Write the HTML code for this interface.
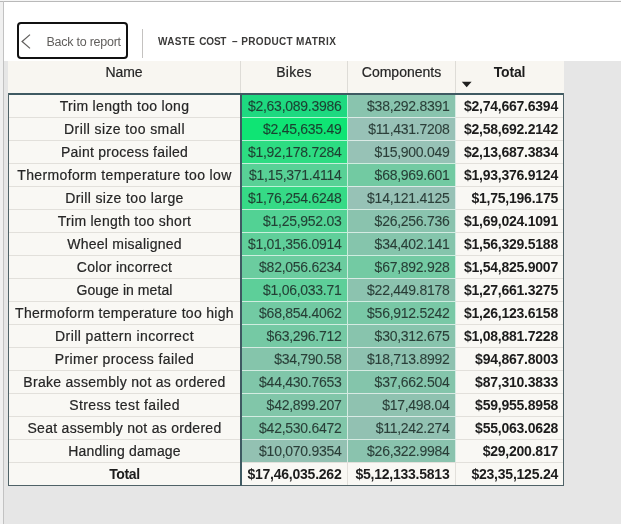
<!DOCTYPE html><html><head><meta charset="utf-8"><title>Waste cost</title><style>
html,body{margin:0;padding:0}
body{width:621px;height:524px;background:#fff;position:relative;overflow:hidden;font-family:"Liberation Sans",sans-serif;color:#262626}
.abs{position:absolute}
#lstrip{left:0;top:2px;width:3px;height:522px;background:#f0f0f0}
#lline{left:3px;top:1px;width:1px;height:523px;background:#c2c2c2}
#tline{left:0;top:1px;width:621px;height:1px;background:#b9b9b9}
#tstrip{left:0;top:0;width:621px;height:1px;background:#f6f6f6}
#gray{left:4px;top:61px;width:617px;height:463px;background:#e6e6e6}
#btn{left:17px;top:22px;width:107px;height:33px;border:2px solid #111;border-radius:4px;background:#fff}
#btn span{position:absolute;left:27.5px;top:10.5px;font-size:12.5px;line-height:15px;color:#605e5c;white-space:nowrap;letter-spacing:-0.25px}
#vsep{left:142px;top:29px;width:1px;height:29px;background:#c4c2c0}
#title{left:158px;top:35.5px;width:200px;height:12px;font-size:10px;line-height:12px;font-weight:bold;color:#3b3a39;white-space:nowrap}
#title span{position:absolute;top:0;transform-origin:0 0;display:block}
#hdr{left:8px;top:61px;width:556px;height:33px;background:#f8f6f1}
.hc{position:absolute;top:0;height:32px;text-align:center;font-size:14px;line-height:22px;white-space:nowrap;-webkit-text-stroke:0.2px #262626}
.hs{position:absolute;top:0;width:1px;height:32px;background:#dedcd7}
#body{left:8px;top:93px;width:556px;height:393px;background:#f9f8f4}
.bd{position:absolute;background:#3f5a62}
.row{position:absolute;left:0;width:556px;height:23px}
.c{position:absolute;top:0;height:23px;line-height:22px;font-size:14px;white-space:nowrap;box-sizing:border-box;border-top:1px solid transparent;-webkit-text-stroke:0.2px #262626}
.n{left:1px;width:231px;text-align:center;border-top-color:#e2e0db}
.b{-webkit-text-stroke:0.1px rgba(28,44,40,.85);color:rgba(28,44,40,.88);left:234px;width:106px;text-align:right;padding-right:5.5px;letter-spacing:-0.27px;border-top-color:rgba(255,255,255,.66);border-right:1px solid rgba(255,255,255,.66)}
.m{-webkit-text-stroke:0.1px rgba(28,44,40,.85);color:rgba(28,44,40,.88);left:340px;width:108px;text-align:right;padding-right:5.5px;letter-spacing:-0.27px;border-top-color:rgba(255,255,255,.66);border-right:1px solid rgba(255,255,255,.66)}
.t{left:448px;width:107px;text-align:right;padding-right:5px;letter-spacing:-0.23px;font-weight:bold;color:#1c1c1c;border-top-color:#e2e0db;-webkit-text-stroke:0}
.r0 .c{border-top-color:transparent}
.tot .c{-webkit-text-stroke:0;font-weight:bold;color:#1c1c1c;letter-spacing:-0.23px;border-top-color:#e2e0db;border-right-color:#e2e0db}
</style></head><body>
<div class="abs" id="tstrip"></div><div class="abs" id="tline"></div><div class="abs" id="lstrip"></div><div class="abs" id="lline"></div>
<div class="abs" id="gray"></div>
<div class="abs" id="btn"><svg class="abs" style="left:1px;top:9px" width="14" height="18" viewBox="0 0 14 18"><path d="M10 1.6 L2.1 8.5 L10 15.4" fill="none" stroke="#605e5c" stroke-width="1.25"/></svg><span>Back to report</span></div>
<div class="abs" id="vsep"></div>
<div class="abs" id="title"><span style="left:0.00px;letter-spacing:0.325px">WASTE</span> <span style="left:41.30px;letter-spacing:-0.200px">COST</span> <span style="left:73.90px;letter-spacing:0.000px">–</span> <span style="left:83.30px;letter-spacing:0.317px">PRODUCT</span> <span style="left:138.10px;letter-spacing:0.430px">MATRIX</span></div>
<div class="abs" id="hdr">
<div class="hc" style="left:0;width:232px;letter-spacing:-0.1px">Name</div>
<div class="hc" style="left:233px;width:106px;letter-spacing:0.3px">Bikes</div>
<div class="hc" style="left:340px;width:107px;letter-spacing:0px">Components</div>
<div class="hc" style="left:448px;width:107px;font-weight:bold;color:#1c1c1c;letter-spacing:-0.2px;-webkit-text-stroke:0">Total</div>
<div class="hs" style="left:232px"></div><div class="hs" style="left:339px"></div><div class="hs" style="left:447px"></div>
<svg class="abs" style="left:453px;top:20px" width="12" height="7" viewBox="0 0 12 7"><path d="M0.8 0.8 L10.6 0.8 L5.7 6.2 Z" fill="#1f1f1f"/></svg>
</div>
<div class="abs" id="body">
<div class="row r0" style="top:1px"><div class="c n" style="letter-spacing:0.324px">Trim length too long</div><div class="c b" style="background:#1ed980">$2,63,089.3986</div><div class="c m" style="background:#89c4ae">$38,292.8391</div><div class="c t">$2,74,667.6394</div></div>
<div class="row" style="top:24px"><div class="c n" style="letter-spacing:0.400px">Drill size too small</div><div class="c b" style="background:#0fe474">$2,45,635.49</div><div class="c m" style="background:#98c2b7">$11,431.7208</div><div class="c t">$2,58,692.2142</div></div>
<div class="row" style="top:47px"><div class="c n" style="letter-spacing:0.250px">Paint process failed</div><div class="c b" style="background:#2ddc82">$1,92,178.7284</div><div class="c m" style="background:#97c2b6">$15,900.049</div><div class="c t">$2,13,687.3834</div></div>
<div class="row" style="top:70px"><div class="c n" style="letter-spacing:0.350px">Thermoform temperature too low</div><div class="c b" style="background:#58d196">$1,15,371.4114</div><div class="c m" style="background:#72caa2">$68,969.601</div><div class="c t">$1,93,376.9124</div></div>
<div class="row" style="top:93px"><div class="c n" style="letter-spacing:0.362px">Drill size too large</div><div class="c b" style="background:#36da86">$1,76,254.6248</div><div class="c m" style="background:#97c2b6">$14,121.4125</div><div class="c t">$1,75,196.175</div></div>
<div class="row" style="top:116px"><div class="c n" style="letter-spacing:0.265px">Trim length too short</div><div class="c b" style="background:#52d294">$1,25,952.03</div><div class="c m" style="background:#8ac3ae">$26,256.736</div><div class="c t">$1,69,024.1091</div></div>
<div class="row" style="top:139px"><div class="c n" style="letter-spacing:0.256px">Wheel misaligned</div><div class="c b" style="background:#60cf9a">$1,01,356.0914</div><div class="c m" style="background:#85c5ac">$34,402.141</div><div class="c t">$1,56,329.5188</div></div>
<div class="row" style="top:162px"><div class="c n" style="letter-spacing:0.284px">Color incorrect</div><div class="c b" style="background:#6bcc9f">$82,056.6234</div><div class="c m" style="background:#73caa3">$67,892.928</div><div class="c t">$1,54,825.9007</div></div>
<div class="row" style="top:185px"><div class="c n" style="letter-spacing:0.068px">Gouge in metal</div><div class="c b" style="background:#5dcf99">$1,06,033.71</div><div class="c m" style="background:#8cc3af">$22,449.8178</div><div class="c t">$1,27,661.3275</div></div>
<div class="row" style="top:208px"><div class="c n" style="letter-spacing:0.310px">Thermoform temperature too high</div><div class="c b" style="background:#72caa3">$68,854.4062</div><div class="c m" style="background:#79c8a6">$56,912.5242</div><div class="c t">$1,26,123.6158</div></div>
<div class="row" style="top:231px"><div class="c n" style="letter-spacing:0.425px">Drill pattern incorrect</div><div class="c b" style="background:#75c9a4">$63,296.712</div><div class="c m" style="background:#88c4ad">$30,312.675</div><div class="c t">$1,08,881.7228</div></div>
<div class="row" style="top:254px"><div class="c n" style="letter-spacing:0.382px">Primer process failed</div><div class="c b" style="background:#85c5ab">$34,790.58</div><div class="c m" style="background:#8ec2b0">$18,713.8992</div><div class="c t">$94,867.8003</div></div>
<div class="row" style="top:277px"><div class="c n" style="letter-spacing:0.297px">Brake assembly not as ordered</div><div class="c b" style="background:#80c6a9">$44,430.7653</div><div class="c m" style="background:#84c5ab">$37,662.504</div><div class="c t">$87,310.3833</div></div>
<div class="row" style="top:300px"><div class="c n" style="letter-spacing:0.400px">Stress test failed</div><div class="c b" style="background:#81c6a9">$42,899.207</div><div class="c m" style="background:#8fc2b0">$17,498.04</div><div class="c t">$59,955.8958</div></div>
<div class="row" style="top:323px"><div class="c n" style="letter-spacing:0.287px">Seat assembly not as ordered</div><div class="c b" style="background:#81c6a9">$42,530.6472</div><div class="c m" style="background:#92c1b2">$11,242.274</div><div class="c t">$55,063.0628</div></div>
<div class="row" style="top:346px"><div class="c n" style="letter-spacing:0.194px">Handling damage</div><div class="c b" style="background:#93c1b2">$10,070.9354</div><div class="c m" style="background:#8ac3ae">$26,322.9984</div><div class="c t">$29,200.817</div></div>
<div class="row tot" style="top:369px"><div class="c n" style="letter-spacing:-0.365px">Total</div><div class="c b">$17,46,035.262</div><div class="c m">$5,12,133.5813</div><div class="c t">$23,35,125.24</div></div>
<div class="bd" style="left:0;top:0;width:556px;height:2px"></div>
<div class="bd" style="left:0;top:0;width:1px;height:393px;background:#4f6267"></div>
<div class="bd" style="left:555px;top:0;width:1px;height:393px;background:#4f6267"></div>
<div class="bd" style="left:0;top:392px;width:556px;height:1px;background:#4f6267"></div>
<div class="bd" style="left:232px;top:0;width:2px;height:393px"></div>
</div>
</body></html>
